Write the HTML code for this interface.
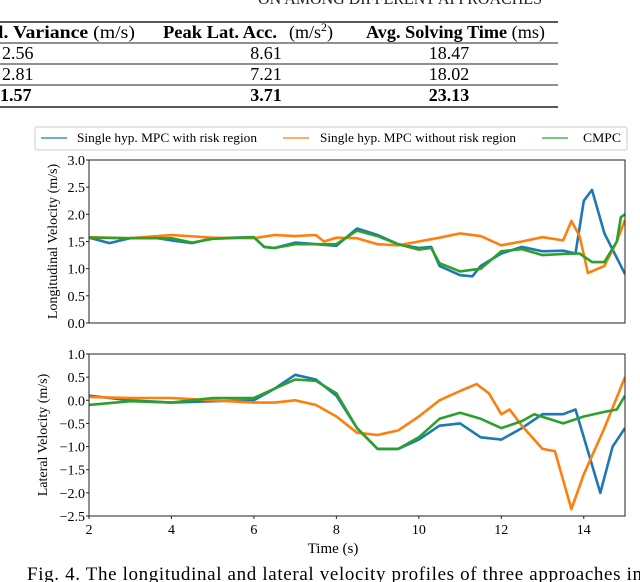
<!DOCTYPE html>
<html><head><meta charset="utf-8"><style>
body{margin:0;width:640px;height:582px;overflow:hidden;background:#fff;font-family:"Liberation Serif",serif;}
svg{position:absolute;left:0;top:0}
</style></head><body>
<svg id="fig" width="640" height="582" xmlns="http://www.w3.org/2000/svg" font-family="Liberation Serif, serif">
<g>
<text x="258" y="4" font-size="17" fill="#222" textLength="284" lengthAdjust="spacingAndGlyphs">ON AMONG DIFFERENT APPROACHES</text>
<line x1="0" y1="22" x2="558" y2="22" stroke="#222" stroke-width="1.6"/>
<line x1="0" y1="43" x2="558" y2="43" stroke="#222" stroke-width="1"/>
<line x1="0" y1="64" x2="558" y2="64" stroke="#222" stroke-width="1"/>
<line x1="0" y1="85" x2="558" y2="85" stroke="#222" stroke-width="1"/>
<line x1="0" y1="107" x2="558" y2="107" stroke="#222" stroke-width="1.6"/>
<text x="-2" y="38" font-size="18" textLength="137" lengthAdjust="spacingAndGlyphs"><tspan font-weight="bold">l. Variance</tspan>  (m/s)</text>
<text x="163" y="38" font-size="18"><tspan font-weight="bold" textLength="114" lengthAdjust="spacingAndGlyphs">Peak Lat. Acc.</tspan><tspan x="289">(m/s</tspan><tspan dy="-7" font-size="12">2</tspan><tspan dy="7">)</tspan></text>
<text x="366" y="38" font-size="18" textLength="179" lengthAdjust="spacingAndGlyphs"><tspan font-weight="bold">Avg. Solving Time</tspan> (ms)</text>
<text x="2" y="59" font-size="18">2.56</text><text x="266" y="59" font-size="18" text-anchor="middle">8.61</text><text x="449" y="59" font-size="18" text-anchor="middle">18.47</text>
<text x="2" y="80" font-size="18">2.81</text><text x="266" y="80" font-size="18" text-anchor="middle">7.21</text><text x="449" y="80" font-size="18" text-anchor="middle">18.02</text>
<text x="0" y="101" font-size="18" font-weight="bold">1.57</text><text x="266" y="101" font-size="18" font-weight="bold" text-anchor="middle">3.71</text><text x="449" y="101" font-size="18" font-weight="bold" text-anchor="middle">23.13</text>
</g>
<g>
<rect x="35" y="127" width="592" height="23" rx="2" fill="#fff" stroke="#ccc"/>
<line x1="41" y1="138" x2="67" y2="138" stroke="#1f77b4" stroke-width="1.2"/>
<text x="77" y="142" font-size="12.5" textLength="180" lengthAdjust="spacingAndGlyphs">Single hyp. MPC with risk region</text>
<line x1="283" y1="138" x2="309" y2="138" stroke="#ff7f0e" stroke-width="1.2"/>
<text x="320" y="142" font-size="12.5" textLength="196" lengthAdjust="spacingAndGlyphs">Single hyp. MPC without risk region</text>
<line x1="542" y1="138" x2="568" y2="138" stroke="#2ca02c" stroke-width="1.2"/>
<text x="583" y="142" font-size="12.5" textLength="38" lengthAdjust="spacingAndGlyphs">CMPC</text>
</g>
<g id="top"></g>
<g id="bot"></g>
<text x="333" y="553" font-size="15" text-anchor="middle">Time (s)</text>
<text x="27" y="580" font-size="19" textLength="615" lengthAdjust="spacing">Fig. 4.   The longitudinal and lateral velocity profiles of three approaches in</text>
</svg>
<script>
const blueTopT=[2,2.5,3,3.5,4,4.5,5,5.5,6,6.25,6.5,7,7.5,8,8.5,9,9.5,10,10.3,10.5,11,11.3,11.5,12,12.5,13,13.5,13.8,14,14.2,14.5,14.8,15];
const blueTopV=[1.57,1.47,1.56,1.58,1.52,1.47,1.56,1.57,1.58,1.40,1.38,1.48,1.45,1.42,1.74,1.62,1.45,1.38,1.40,1.05,0.88,0.86,1.05,1.28,1.40,1.32,1.33,1.28,2.25,2.45,1.65,1.2,0.9];
const orangeTopT=[2,3,4,5,6,6.5,7,7.5,7.7,8,8.5,9,9.5,10,10.5,11,11.5,12,12.5,13,13.5,13.7,13.9,14.1,14.5,14.8,15];
const orangeTopV=[1.58,1.56,1.62,1.57,1.56,1.62,1.60,1.62,1.50,1.57,1.56,1.45,1.43,1.50,1.57,1.65,1.60,1.43,1.50,1.58,1.52,1.88,1.60,0.92,1.05,1.5,1.9];
const greenTopT=[2,3,4,4.5,5,6,6.25,6.5,7,7.5,8,8.5,9,9.5,10,10.3,10.5,11,11.5,12,12.5,13,13.5,13.9,14.2,14.5,14.8,14.9,15];
const greenTopV=[1.57,1.56,1.56,1.48,1.55,1.58,1.40,1.38,1.45,1.45,1.45,1.70,1.60,1.45,1.35,1.38,1.10,0.95,1.00,1.32,1.36,1.25,1.27,1.28,1.12,1.12,1.5,1.95,2.0];
const blueBotT=[2,3,4,5,6,6.5,7,7.5,8,8.5,9,9.5,10,10.5,11,11.5,12,12.5,13,13.5,13.8,14,14.4,14.7,15];
const blueBotV=[0.1,0.0,-0.05,-0.02,0.0,0.25,0.55,0.45,0.1,-0.6,-1.05,-1.05,-0.85,-0.55,-0.5,-0.8,-0.85,-0.6,-0.3,-0.3,-0.2,-0.8,-2.0,-1.0,-0.6];
const orangeBotT=[2,3,4,5,6,6.5,7,7.5,8,8.5,9,9.5,10,10.5,11,11.4,11.7,12,12.2,12.5,13,13.3,13.7,14,14.5,15];
const orangeBotV=[0.07,0.05,0.05,0.0,-0.05,-0.05,0.0,-0.1,-0.35,-0.7,-0.75,-0.65,-0.35,0.0,0.2,0.35,0.15,-0.3,-0.2,-0.55,-1.05,-1.1,-2.35,-1.6,-0.6,0.5];
const greenBotT=[2,3,4,5,6,6.5,7,7.5,8,8.5,9,9.5,10,10.5,11,11.5,12,12.5,12.8,13.5,14,14.5,14.8,15];
const greenBotV=[-0.1,-0.02,-0.05,0.05,0.05,0.25,0.45,0.42,0.15,-0.6,-1.05,-1.05,-0.8,-0.4,-0.27,-0.4,-0.6,-0.45,-0.3,-0.5,-0.35,-0.25,-0.2,0.1];
const xTicks=[2,4,6,8,10,12,14];
const topYTicks=[0,0.5,1,1.5,2,2.5,3];
const botYTicks=[-2.5,-2,-1.5,-1,-0.5,0,0.5,1];
const NS='http://www.w3.org/2000/svg';
const X0=89,X1=625;
const xs=t=>X0+(t-2)/(15-2)*(X1-X0);
function mk(tag,a,p){const e=document.createElementNS(NS,tag);for(const k in a)e.setAttribute(k,a[k]);p.appendChild(e);return e;}
function fmt(v){return (v<0?'\u2212':'')+Math.abs(v).toFixed(1);}
function panel(g,top,bot,ymin,ymax,yticks,label,series,showX,name){
  const ys=v=>bot-(v-ymin)/(ymax-ymin)*(bot-top);
  const cp=mk('clipPath',{id:'c'+name},g);mk('rect',{x:X0,y:top,width:X1-X0,height:bot-top},cp);
  series.forEach(s=>{
    const d=s.t.map((t,i)=>(i?'L':'M')+xs(t).toFixed(1)+','+ys(s.v[i]).toFixed(1)).join('');
    const p=mk('path',{d:d,fill:'none',stroke:s.c,'stroke-width':2.6,'stroke-linejoin':'round','clip-path':'url(#c'+name+')'},g);
    
    
  });
  const fr=mk('rect',{x:X0,y:top,width:X1-X0,height:bot-top,fill:'none',stroke:'#222','stroke-width':1},g);
  
  
  yticks.forEach(v=>{
    mk('line',{x1:X0-3,x2:X0,y1:ys(v),y2:ys(v),stroke:'#222'},g);
    const tx=mk('text',{x:X0-4,y:ys(v)+5,'font-size':14,'text-anchor':'end'},g);tx.textContent=fmt(v);
    
    
  });
  if(showX)xTicks.forEach(t=>{
    mk('line',{x1:xs(t),x2:xs(t),y1:bot,y2:bot+3,stroke:'#222'},g);
    const tx=mk('text',{x:xs(t),y:bot+18,'font-size':14,'text-anchor':'middle'},g);tx.textContent=t;
    
    
  });
  const cy=(top+bot)/2;
  const yl=mk('text',{x:0,y:0,'font-size':14,'text-anchor':'middle',transform:`translate(${name==='top'?57:47},${cy}) rotate(-90)`},g);
  yl.textContent=label;
  
  
}
panel(document.getElementById('top'),160,323,0,3,topYTicks,'Longitudinal Velocity (m/s)',[
 {t:blueTopT,v:blueTopV,c:'#1f77b4',n:'blue'},{t:orangeTopT,v:orangeTopV,c:'#ff7f0e',n:'orange'},{t:greenTopT,v:greenTopV,c:'#2ca02c',n:'green'}],false,'top');
panel(document.getElementById('bot'),354,516,-2.5,1,botYTicks,'Lateral Velocity (m/s)',[
 {t:blueBotT,v:blueBotV,c:'#1f77b4',n:'blue'},{t:orangeBotT,v:orangeBotV,c:'#ff7f0e',n:'orange'},{t:greenBotT,v:greenBotV,c:'#2ca02c',n:'green'}],true,'bot');
</script>
</body></html>
